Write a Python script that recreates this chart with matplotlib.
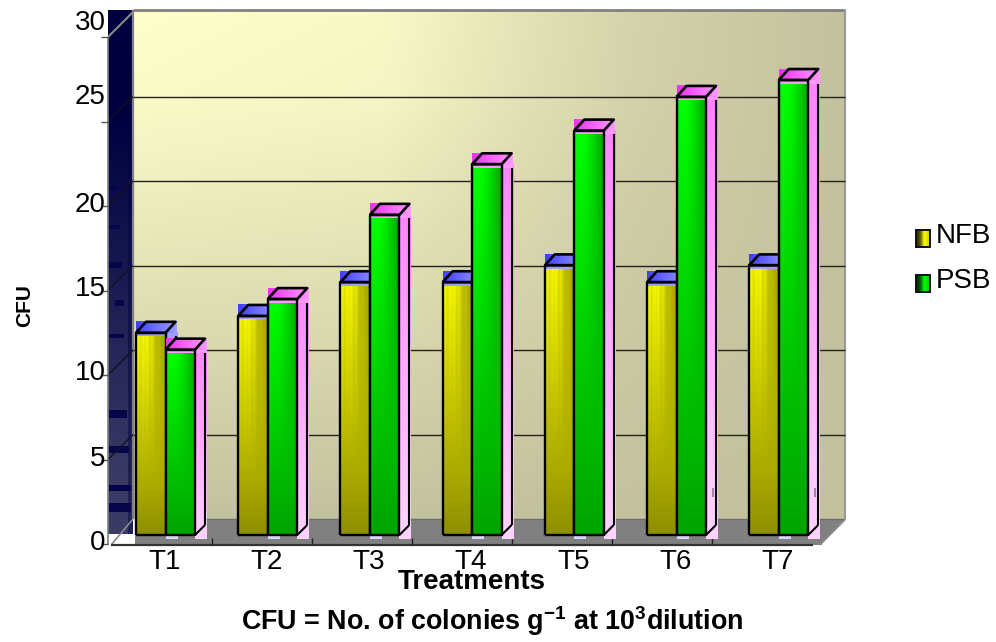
import numpy as np
import matplotlib
matplotlib.use("Agg")
import matplotlib.pyplot as plt
from matplotlib.patches import Polygon, Rectangle

categories = ["T1", "T2", "T3", "T4", "T5", "T6", "T7"]
nfb = [12, 13, 15, 15, 16, 15, 16]
psb = [11, 14, 19, 22, 24, 26, 27]
y_ticks = [0, 5, 10, 15, 20, 25, 30]
grid_values = [5, 10, 15, 20, 25]
series_names = ["NFB", "PSB"]

plt.rcParams["font.family"] = ["Liberation Sans", "DejaVu Sans"]
plt.rcParams["mathtext.fontset"] = "custom"
plt.rcParams["mathtext.bf"] = "Liberation Sans:bold"
plt.rcParams["mathtext.rm"] = "Liberation Sans"

W, H = 996, 642
fig = plt.figure(figsize=(W / 100, H / 100), dpi=100)
ax = fig.add_axes([0, 0, 1, 1])

STEP = 102.2
K = 16.85
def X(p): return (p - 165.5) / STEP
def Y(p): return (535 - p) / K
ax.set_xlim(X(0), X(W))
ax.set_ylim(Y(H), Y(0))
ax.axis("off")

z = [1]
def nz():
    z[0] += 1
    return z[0]

def img(arr, x0, x1, y0, y1):
    return ax.imshow(arr, extent=(x0, x1, y0, y1), origin="upper", aspect="auto",
                     interpolation="bilinear", zorder=nz())

def line(xs, ys, c="black", lw=1.0):
    ax.plot(xs, ys, color=c, lw=lw, zorder=nz(), solid_capstyle="butt")

def poly(pts, fc="none", ec="none", lw=0):
    p = Polygon(pts, closed=True, facecolor=fc, edgecolor=ec, linewidth=lw, zorder=nz())
    ax.add_patch(p)
    return p

def rect(x0, x1, y0, y1, fc):
    ax.add_patch(Rectangle((x0, y0), x1 - x0, y1 - y0, facecolor=fc, edgecolor="none", zorder=nz()))

# ---- back wall gradient
wl, wr, wt, wb = 133, 845, 10, 519
n = 240
uu, vv = np.meshgrid(np.linspace(0, 1, n), np.linspace(0, 1, n))
gu = np.interp(uu, [0, 0.35, 0.7, 1], [0, 0.1, 0.72, 1])
gv = np.interp(vv, [0, 0.17, 0.56, 1], [0, 0.07, 0.5, 1])
t = (1 - (1 - gu) * (1 - gv))[..., None]
c0 = np.array([1.0, 1.0, 0.80])
c1 = np.array([0.765, 0.76, 0.62])
img(c0 * (1 - t) + c1 * t, X(wl), X(wr), Y(wb), Y(wt))

# ---- left wall
lx0, lx1, lbot = 108, 133, 534
rows = 520
v = np.linspace(0, 1, rows)[:, None]
topc = np.array([0.0, 0.0, 0.25])
botc = np.array([0.23, 0.23, 0.40])
f = np.clip((v - 0.2) / 0.7, 0, 1)[..., None]
wall = np.repeat((topc * (1 - f) + botc * f), 25, axis=1)
wall[:, 20:] = wall[:, 20:] * 0.55 + topc * 0.45
img(wall, X(lx0), X(lx1), Y(lbot), Y(wt))
for (a, b, s, e) in [(334, 338, 109, 124), (410, 418, 109, 127), (446, 453, 109, 129),
                     (485, 491, 109, 131), (503, 512, 109, 131), (225, 229, 109, 120),
                     (186, 190, 109, 118), (262, 268, 109, 122), (300, 306, 115, 124)]:
    rect(X(s), X(e), Y(b), Y(a), "#05054a")

# ---- floor
rect(X(135), X(822), Y(545), Y(519), "#808080")
poly([(X(820), Y(545)), (X(845), Y(519)), (X(820), Y(519))], fc="#808080")
line([X(135), X(845)], [Y(519), Y(519)], c="#6c6c6c", lw=1.0)
line([X(820), X(845)], [Y(545), Y(520)], c="#8a8a8a", lw=1.0)
rect(X(108), X(135), Y(545), Y(534), "white")

# ---- wall frame
line([X(wl), X(wr)], [Y(wt), Y(wt)], c="#808080", lw=2)
line([X(wr), X(wr)], [Y(wt), Y(520)], c="#9a9a9a", lw=1.5)
line([X(wl), X(wl)], [Y(wt), Y(wb)], c="#808080", lw=1.6)

# ---- grid lines
back = Y(519)
front = Y(544)
vs = 16.9 / K
for g in grid_values:
    line([X(wl), X(wr)], [back + g * vs, back + g * vs], c="#22221a", lw=1.0)
    line([X(108), X(wl)], [front + g * vs, back + g * vs], c="#111122", lw=1.0)
line([X(108), X(wl)], [front + 30 * vs, back + 30 * vs], c="#8a8a8a", lw=1.5)
line([X(111), X(wl)], [Y(545), Y(519)], c="#8a8a8a", lw=1.2)

# ---- value axis
line([X(108), X(108)], [front + 30 * vs, Y(545)], c="#808080", lw=1.2)
for g in y_ticks:
    line([X(101), X(108)], [front + g * vs, front + g * vs], c="#555555", lw=1.0)

# ---- category axis
line([X(111), X(813)], [Y(545), Y(545)], c="#333333", lw=1.6)
for i in range(1, 7):
    line([X(112 + 100 * i)] * 2, [Y(545), Y(538)], c="#222222", lw=1.0)

# ---- bars
BW = 29.5 / STEP
DX = 10 / STEP
DY = 11 / K
EXT = 11.5 / STEP
STRIP = 3.5 / K
yel_stripes = np.array([1.0, 0.97, 0.88, 0.98, 0.92, 0.98, 0.84, 0.92, 0.78, 0.72, 0.74, 0.68, 0.66, 0.68])
grn_stripes = np.array([0.92, 1.0, 1.0, 1.0, 0.98, 0.95, 0.9, 0.85, 0.8, 0.74, 0.68, 0.66])

def front_img(rgb, bottom, stripes):
    r = 120
    w = np.linspace(0, 1, r)[:, None]
    h = np.interp(np.linspace(0, 1, 60), np.linspace(0, 1, len(stripes)), stripes)[None, :]
    fade = np.clip(1 - w / 0.75, 0, 1)
    m = (1 - (1 - h) * fade) * (1 - (1 - bottom) * w)
    return m[..., None] * np.array(rgb)

def bar(x0, val, rgb, bottom, stripes, top_a, top_b, side_a, side_b):
    x1 = x0 + BW
    w = np.linspace(0, 1, 80)[:, None, None]
    side = np.array(side_a) * (1 - w) + np.array(side_b) * w
    img(side, x1, x1 + EXT, -4 / K, val)
    g = np.linspace(0, 1, 40)[None, :, None]
    top_arr = np.repeat(np.array(top_a) * (1 - g) + np.array(top_b) * g, 8, axis=0)
    img(top_arr, x0, x1 + EXT, val - STRIP, val + DY)
    img(front_img(rgb, bottom, stripes), x0, x1, 0, val - STRIP)
    rect(x0, x1 + EXT, val - STRIP, val, top_b)
    line([x0, x1, x1, x0, x0], [0, 0, val, val, 0], c="black", lw=1.7)
    line([x0, x0 + DX, x1 + DX, x1, x0], [val, val + DY, val + DY, val, val], c="black", lw=1.9)
    line([x1 + DX, x1 + DX], [val - STRIP, DY - 1 / K], c="black", lw=1.5)
    line([x1, x1 + DX], [0, DY - 1 / K], c="black", lw=1.5)

yel = (1.0, 1.0, 0.0)
grn = (0.0, 1.0, 0.0)
for i in range(len(categories)):
    xl = i - BW
    bar(xl, nfb[i], yel, 0.56, yel_stripes, (0.25, 0.25, 1.0), (0.62, 0.62, 1.0),
        (0.62, 0.62, 1.0), (0.85, 0.85, 1.0))
    bar(i, psb[i], grn, 0.64, grn_stripes, (0.92, 0.2, 0.94), (1.0, 0.6, 1.0),
        (1.0, 0.52, 1.0), (1.0, 0.83, 1.0))
    if i >= 5:
        rect(i + BW + 6 / STEP, i + BW + 7.5 / STEP, Y(497), Y(488), "#9a8a9a")

# ---- tick labels
label_py = {0: 543.5, 5: 458.5, 10: 373.5, 15: 289.5, 20: 205.5, 25: 97, 30: 23}
for g in y_ticks:
    ax.text(X(105.5), Y(label_py[g]), str(g), ha="right", va="center", fontsize=20,
            color="black", zorder=nz())
for i, c in enumerate(categories):
    ax.text(i - 1 / STEP, Y(562), c, ha="center", va="center", fontsize=20, zorder=nz())

# ---- titles
ax.text(X(472), Y(582), "Treatments", ha="center", va="center", fontsize=20,
        fontweight="bold", zorder=nz())
ax.text(X(492.5), Y(621), r"CFU = No. of colonies g$\mathbf{^{-1}}$ at 10$\mathbf{^{3}}$dilution",
        ha="center", va="center", fontsize=19.4, fontweight="bold", zorder=nz())
ax.text(X(25), Y(306), "CFU", ha="center", va="center", rotation=90, fontsize=15,
        fontweight="bold", zorder=nz())

# ---- legend
for name, top, base in zip(series_names, [230, 275], [yel, grn]):
    g = np.interp(np.linspace(0, 1, 20), [0, 0.3, 0.6, 1], [0.15, 0.35, 1, 0.8])[None, :, None]
    arr = np.repeat(g * np.array(base), 6, axis=0)
    img(arr, X(916), X(930), Y(top + 17), Y(top))
    ax.add_patch(Rectangle((X(916), Y(top + 17)), 14 / STEP, 17 / K, facecolor="none",
                           edgecolor="#111111", linewidth=1.4, zorder=nz()))
    ax.text(X(936), Y(top + 6), name, ha="left", va="center", fontsize=20, zorder=nz())

ax.set_xlim(X(0), X(W))
ax.set_ylim(Y(H), Y(0))
fig.savefig("out.png", dpi=100, facecolor="white")
